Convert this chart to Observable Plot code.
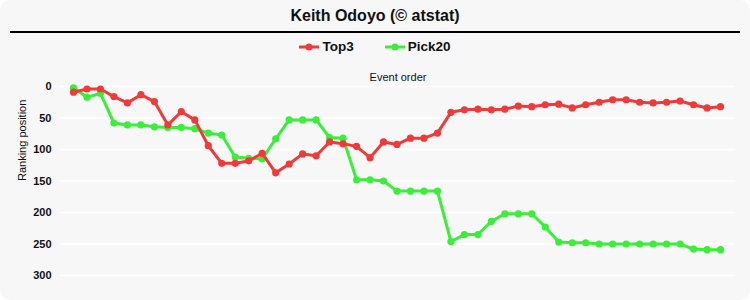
<!DOCTYPE html>
<html>
<head>
<meta charset="utf-8">
<script src="https://cdn.jsdelivr.net/npm/d3@7"></script>
<script src="https://cdn.jsdelivr.net/npm/@observablehq/plot@0.6"></script>
<style>
  html, body { margin: 0; padding: 0; background: #ffffff; }
  #wrap {
    position: relative; width: 750px; height: 300px; background: #f7f7f7;
    border-radius: 10px; overflow: hidden;
    font-family: "Liberation Sans", Arial, sans-serif;
  }
  #title {
    position: absolute; left: 0; top: 7px; width: 750px; text-align: center;
    font-size: 16px; font-weight: bold; color: #111;
  }
  #rule { position: absolute; left: 10px; top: 31px; width: 730px; height: 1.5px; background: #000; }
  #legend {
    position: absolute; top: 39px; left: 0; width: 750px; display: flex; justify-content: center;
    gap: 31px; font-size: 13.5px; font-weight: bold; color: #111;
  }
  .item { display: flex; align-items: center; gap: 3px; }
  #chart { position: absolute; left: 0; top: 62px; }
</style>
</head>
<body>
<div id="wrap">
  <div id="title">Keith Odoyo (© atstat)</div>
  <div id="rule"></div>
  <div id="legend"></div>
  <div id="chart"></div>
</div>
<script>
const events = [1,2,3,4,5,6,7,8,9,10,11,12,13,14,15,16,17,18,19,20,21,22,23,24,25,26,27,28,29,30,31,32,33,34,35,36,37,38,39,40,41,42,43,44,45,46,47,48,49];
const top3 = [9,4,4,16,26,13,24,61,40,53,94,122,122,118,106,137,123,107,110,88,91,95,113,88,92,82,82,74,41,37,36,37,36,31,32,29,28,34,29,25,21,21,25,26,25,23,29,34,32];
const pick20 = [2,17,11,58,61,61,64,65,65,67,74,77,112,114,115,83,53,53,53,81,82,148,148,150,166,166,166,166,246,235,235,214,202,202,202,223,247,248,248,250,250,250,250,250,250,250,258,259,259];
const seriesNames = ["Top3", "Pick20"];
const seriesColors = ["#f03a3a", "#3aee3a"];
const yTicks = [0, 50, 100, 150, 200, 250, 300];

const rows = [];
seriesNames.forEach((name, s) => {
  const vals = s === 0 ? top3 : pick20;
  events.forEach((e, i) => rows.push({series: name, event: e, rank: vals[i]}));
});
const drawOrder = ["Pick20", "Top3"];

// legend
const legend = document.getElementById("legend");
seriesNames.forEach((name, i) => {
  const it = document.createElement("div");
  it.className = "item";
  it.innerHTML = `<svg width="20" height="10"><line x1="0" y1="5" x2="20" y2="5" stroke="${seriesColors[i]}" stroke-width="3"/><circle cx="10" cy="5" r="3.5" fill="${seriesColors[i]}"/></svg><span>${name}</span>`;
  legend.appendChild(it);
});

const marks = [
  Plot.gridY(yTicks, {stroke: "#ffffff", strokeOpacity: 1, strokeWidth: 1.5}),
  Plot.axisY(yTicks, {tickSize: 0, tickPadding: 9, fontSize: 11, fontWeight: "bold", fill: "#111", label: null}),
  Plot.text(["Event order"], {frameAnchor: "top", dy: -13, fontSize: 11, fill: "#111"}),
  Plot.text(["Ranking position"], {frameAnchor: "left", dx: -38, rotate: -90, fontSize: 11, fill: "#111"})
];
drawOrder.forEach(name => {
  const data = rows.filter(r => r.series === name);
  const c = seriesColors[seriesNames.indexOf(name)];
  marks.push(Plot.line(data, {x: "event", y: "rank", stroke: c, strokeWidth: 3, strokeLinejoin: "round"}));
  marks.push(Plot.dot(data, {x: "event", y: "rank", fill: c, r: 3.6}));
});

const chart = Plot.plot({
  width: 750,
  height: 238,
  marginTop: 24,
  marginBottom: 25,
  marginLeft: 60,
  marginRight: 15,
  style: {background: "transparent", fontFamily: "'Liberation Sans', Arial, sans-serif", overflow: "visible"},
  x: {domain: [1, 49], insetLeft: 13, insetRight: 15, axis: null},
  y: {domain: [0, 300], reverse: true, axis: null},
  marks
});
document.getElementById("chart").appendChild(chart);
</script>
</body>
</html>
